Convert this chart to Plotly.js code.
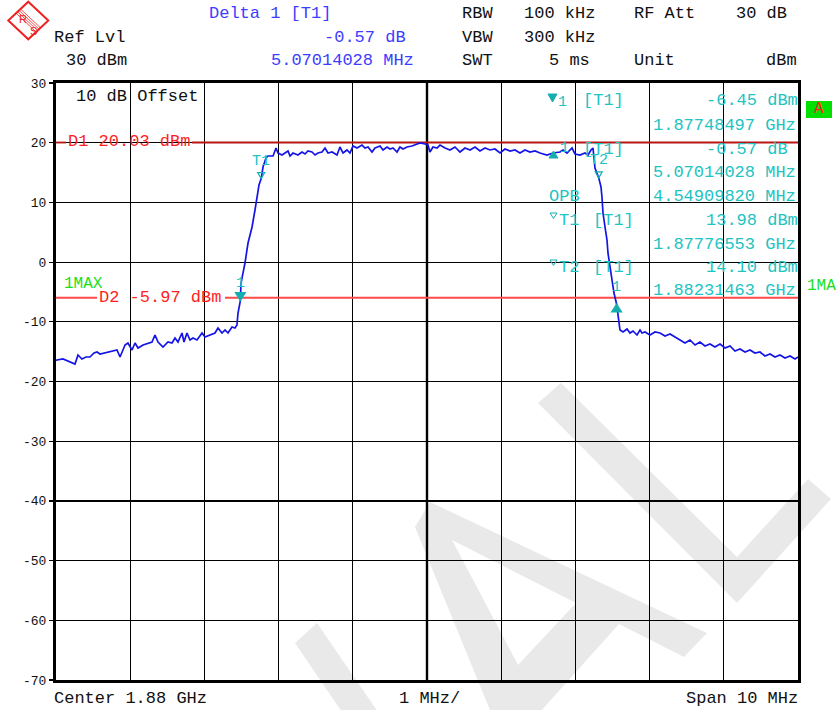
<!DOCTYPE html>
<html>
<head>
<meta charset="utf-8">
<script src="https://cdn.plot.ly/plotly-3.0.1.min.js"></script>
<style>
  html, body { margin: 0; padding: 0; background: #ffffff; }
  #chart { width: 837px; height: 710px; }
</style>
</head>
<body>
<div id="chart"></div>
<script>
// ---- Sweep trace (max hold), frequency in MHz, level in dBm ----
const freqMHz = [
  1875.000, 1875.013, 1875.094, 1875.162, 1875.256, 1875.296, 1875.350, 1875.404, 1875.458, 1875.512,
  1875.553, 1875.593, 1875.660, 1875.728, 1875.782, 1875.822, 1875.863, 1875.930, 1875.970, 1876.024,
  1876.065, 1876.105, 1876.173, 1876.240, 1876.294, 1876.334, 1876.375, 1876.442, 1876.509, 1876.563,
  1876.604, 1876.644, 1876.698, 1876.725, 1876.765, 1876.806, 1876.846, 1876.900, 1876.968, 1877.008,
  1877.075, 1877.143, 1877.183, 1877.237, 1877.278, 1877.318, 1877.372, 1877.412, 1877.439, 1877.453,
  1877.48497, 1877.493, 1877.520, 1877.547, 1877.588, 1877.642, 1877.682, 1877.709, 1877.736, 1877.76553,
  1877.790, 1877.830, 1877.857, 1877.925, 1877.965, 1877.992, 1878.046, 1878.086, 1878.127, 1878.154,
  1878.194, 1878.261, 1878.315, 1878.356, 1878.396, 1878.450, 1878.491, 1878.531, 1878.585, 1878.625,
  1878.666, 1878.720, 1878.787, 1878.827, 1878.868, 1878.922, 1878.962, 1879.003, 1879.057, 1879.124,
  1879.164, 1879.205, 1879.259, 1879.299, 1879.367, 1879.407, 1879.461, 1879.501, 1879.542, 1879.596,
  1879.636, 1879.677, 1879.730, 1879.798, 1879.838, 1879.906, 1879.973, 1880.013, 1880.040, 1880.081,
  1880.135, 1880.175, 1880.243, 1880.310, 1880.377, 1880.445, 1880.512, 1880.580, 1880.647, 1880.714,
  1880.782, 1880.849, 1880.916, 1880.984, 1881.051, 1881.119, 1881.186, 1881.253, 1881.321, 1881.388,
  1881.456, 1881.523, 1881.617, 1881.698, 1881.792, 1881.833, 1881.887, 1881.954, 1881.995, 1882.062,
  1882.129, 1882.170, 1882.210, 1882.237, 1882.244, 1882.251, 1882.264, 1882.31463, 1882.345, 1882.358,
  1882.372, 1882.399, 1882.426, 1882.439, 1882.466, 1882.493, 1882.520, 1882.55511, 1882.574, 1882.588,
  1882.601, 1882.642, 1882.695, 1882.736, 1882.776, 1882.830, 1882.871, 1882.898, 1882.938, 1883.005,
  1883.073, 1883.140, 1883.208, 1883.275, 1883.342, 1883.410, 1883.477, 1883.544, 1883.612, 1883.679,
  1883.747, 1883.814, 1883.881, 1883.949, 1884.016, 1884.084, 1884.151, 1884.218, 1884.286, 1884.353,
  1884.420, 1884.488, 1884.555, 1884.623, 1884.690, 1884.757, 1884.825, 1884.892, 1884.960, 1885.000
];
const levelDbm = [
  -16.50, -16.40, -16.23, -16.57, -17.07, -15.56, -16.23, -15.90, -15.90, -15.23,
  -15.06, -15.40, -15.23, -15.06, -14.89, -14.72, -15.90, -13.89, -13.55, -14.72,
  -13.55, -14.39, -13.89, -13.55, -13.38, -12.21, -13.38, -14.22, -13.38, -13.55,
  -12.71, -13.38, -11.88, -13.38, -11.88, -13.05, -12.71, -13.05, -11.88, -12.55,
  -12.21, -11.88, -11.04, -11.88, -11.37, -11.88, -10.87, -11.04, -10.54, -8.53,
  -6.45, -3.54, -1.86, -0.15, 3.20, 5.88, 8.73, 10.91, 12.92, 13.98,
  15.93, 17.44, 17.77, 17.77, 19.11, 18.27, 17.94, 18.27, 18.61, 17.77,
  18.27, 17.94, 18.44, 18.11, 18.61, 18.44, 17.94, 18.27, 18.44, 19.11,
  18.27, 18.44, 17.94, 19.28, 18.27, 18.78, 18.27, 19.45, 19.11, 19.61,
  19.11, 19.28, 18.44, 19.11, 19.45, 18.78, 19.28, 18.94, 19.11, 18.44,
  19.28, 18.94, 19.28, 19.45, 19.61, 19.95, 19.78, 19.61, 18.44, 19.28,
  19.11, 19.61, 19.11, 18.78, 19.28, 18.44, 19.11, 18.78, 19.28, 18.61,
  19.11, 18.78, 18.94, 18.27, 18.94, 18.61, 18.78, 18.27, 18.78, 18.44,
  18.61, 18.27, 17.94, 18.27, 18.44, 18.78, 18.27, 19.11, 18.11, 17.94,
  18.27, 17.94, 18.78, 19.11, 18.27, 16.76, 15.76, 14.10, 12.58, 10.90,
  8.22, 5.88, 3.70, 1.53, -0.82, -3.00, -5.18, -7.02, -8.53, -10.21,
  -11.38, -11.71, -11.21, -11.88, -11.54, -12.21, -11.38, -11.88, -11.71, -12.21,
  -11.71, -11.88, -12.38, -12.04, -12.55, -13.05, -13.55, -13.05, -13.89, -13.38,
  -14.05, -13.72, -14.22, -13.72, -14.39, -14.05, -14.89, -14.56, -15.06, -14.72,
  -15.23, -15.06, -15.73, -15.40, -15.90, -15.56, -16.06, -15.73, -16.23, -15.90
];

// ---- Axis ----
const centerGHz = 1.88;
const spanMHz = 10;
const yTickVals = [30, 20, 10, 0, -10, -20, -30, -40, -50, -60, -70];
const yTickText = ['30', '20', '10', '0', '-10', '-20', '-30', '-40', '-50', '-60', '-70'];

// ---- Markers ----
const m1FreqGHz = 1.87748497, m1LevelDbm = -6.45;
const deltaFreqMHz = 5.07014028, deltaLevelDb = -0.57;
const t1FreqGHz = 1.87776553, t1LevelDbm = 13.98;
const t2FreqGHz = 1.88231463, t2LevelDbm = 14.10;
const opbMHz = 4.54909820;

// ---- Display lines ----
const lineNames = ['D1', 'D2'];
const lineLevels = [20.03, -5.97];

// ---- Instrument settings ----
const settingNames = ['RBW', 'VBW', 'SWT'];
const settingValues = ['100 kHz', '300 kHz', '  5 ms'];

// ---------------------------------------------------------------
const MONO = 'Liberation Mono, DejaVu Sans Mono, monospace';
const SANS = 'Liberation Sans, Arial, sans-serif';
const BLUE_TXT = '#3c3cff';
const CYAN = '#22c3c3';
const CYAN_MK = '#14aeb0';
const RED_TXT = '#ff1e1e';
const GREEN = '#18e018';

// plot frame in page pixels
const L = 56, T = 83, W = 742, H = 597;
const px = x => (x - L) / W;
const py = y => (T + H - y) / H;
const pxMHz = x => (centerGHz * 1000 - spanMHz / 2) + (x - L) / W * spanMHz;

function note(text, x, y, opts) {
  const base = {
    text: text, x: px(x), y: py(y), xref: 'paper', yref: 'paper',
    showarrow: false, xanchor: 'left', yanchor: 'middle', borderpad: 0,
    font: { family: MONO, size: 17, color: '#111111' }
  };
  return Object.assign(base, opts || {});
}
function poly(points) {
  return 'M ' + points.map(p => px(p[0]).toFixed(5) + ' ' + py(p[1]).toFixed(5)).join(' L ') + ' Z';
}

const fMin = centerGHz * 1000 - spanMHz / 2;
const fMax = centerGHz * 1000 + spanMHz / 2;
const m1MHz = m1FreqGHz * 1000;
const deltaMHz = m1MHz + deltaFreqMHz;
const deltaLevel = m1LevelDbm + deltaLevelDb;
const t1MHz = t1FreqGHz * 1000;
const t2MHz = t2FreqGHz * 1000;

const trace = {
  x: freqMHz, y: levelDbm, type: 'scatter', mode: 'lines',
  line: { color: '#1414e6', width: 1.7 }, hoverinfo: 'skip'
};

const shapes = [];
const annotations = [];

// watermark lettering behind the grid
const wm = { type: 'path', xref: 'paper', yref: 'paper', layer: 'below',
             fillcolor: '#e9e9e9', line: { width: 0 } };
shapes.push(Object.assign({}, wm, { path: poly([[295, 643], [317, 623], [380, 715], [344, 715]]) }));
shapes.push(Object.assign({}, wm, { fillrule: 'evenodd',
  path: poly([[492, 715], [415, 527], [430, 502], [707, 633], [684, 657], [619, 624], [540, 712]]) +
        ' ' + poly([[452, 540], [576, 603], [518, 665]]) }));
shapes.push(Object.assign({}, wm, { path: poly([[538, 403], [737, 603], [831, 499], [808, 479], [737, 557], [561, 383]]) }));

// heavier centre graticule line
shapes.push({ type: 'line', xref: 'x', yref: 'paper', x0: centerGHz * 1000, x1: centerGHz * 1000, y0: 0, y1: 1,
              line: { color: '#000', width: 2.4 }, layer: 'between' });

// display lines, broken where their labels sit
const lineColors = ['#b81414', '#ff4a4a'];
const lineGaps = [[67, 192], [98, 225]];
lineLevels.forEach((lv, i) => {
  const gap = lineGaps[i];
  [[fMin, pxMHz(gap[0] - 1)], [pxMHz(gap[1]), fMax]].forEach(seg => {
    shapes.push({ type: 'line', xref: 'x', yref: 'y', x0: seg[0], x1: seg[1], y0: lv, y1: lv,
                  line: { color: lineColors[i], width: 1.8 }, layer: 'between' });
  });
  annotations.push(note(lineNames[i] + ' ' + lv.toFixed(2) + ' dBm', gap[0], [141.5, 297][i],
    { font: { family: MONO, size: 17, color: RED_TXT } }));
});

// marker glyphs anchored at marker values
function glyph(fx, lv, path, filled) {
  return { type: 'path', xref: 'x', yref: 'y', xsizemode: 'pixel', ysizemode: 'pixel',
           xanchor: fx, yanchor: lv, path: path,
           fillcolor: filled ? CYAN_MK : 'rgba(0,0,0,0)',
           line: { color: CYAN_MK, width: 1.2 } };
}
shapes.push(glyph(m1MHz, m1LevelDbm, 'M -5 8 L 5 8 L 0 0 Z', true));
shapes.push(glyph(deltaMHz, deltaLevel, 'M -5 -8 L 5 -8 L 0 0 Z', true));
shapes.push(glyph(t1MHz, t1LevelDbm, 'M -3.5 6 L 3.5 6 L 0 0 Z', false));
shapes.push(glyph(t2MHz, t2LevelDbm, 'M -3.5 6 L 3.5 6 L 0 0 Z', false));

function mlabel(text, fx, lv, dy) {
  return { text: text, x: fx, y: lv, xref: 'x', yref: 'y', showarrow: false,
           xanchor: 'center', yanchor: 'middle', yshift: dy, borderpad: 0,
           font: { family: MONO, size: 15, color: CYAN } };
}
annotations.push(mlabel('1', m1MHz, m1LevelDbm, 17));
annotations.push(mlabel('1', deltaMHz, deltaLevel, 17));
annotations.push(mlabel('T1', t1MHz, t1LevelDbm, 17));
annotations.push(mlabel('T2', t2MHz, t2LevelDbm, 17));

// marker table
const cyanFont = { family: MONO, size: 17, color: CYAN };
const rowY = [100.7, 125.5, 149, 172.5, 196, 220.7, 244.2, 267.5, 290.8];
annotations.push(note('[T1]', 582, rowY[0], { font: cyanFont }));
annotations.push(note(m1LevelDbm.toFixed(2) + ' dBm', 705, rowY[0], { font: cyanFont }));
annotations.push(note(m1FreqGHz.toFixed(8) + ' GHz', 797, rowY[1], { font: cyanFont, xanchor: 'right' }));
annotations.push(note('[T1]', 582, rowY[2], { font: cyanFont }));
annotations.push(note(deltaLevelDb.toFixed(2) + ' dB', 705, rowY[2], { font: cyanFont }));
annotations.push(note(deltaFreqMHz.toFixed(8) + ' MHz', 797, rowY[3], { font: cyanFont, xanchor: 'right' }));
annotations.push(note('OPB', 548, rowY[4], { font: cyanFont }));
annotations.push(note(opbMHz.toFixed(8) + ' MHz', 797, rowY[4], { font: cyanFont, xanchor: 'right' }));
annotations.push(note('T1', 558, rowY[5], { font: cyanFont }));
annotations.push(note('[T1]', 592, rowY[5], { font: cyanFont }));
annotations.push(note(t1LevelDbm.toFixed(2) + ' dBm', 705, rowY[5], { font: cyanFont }));
annotations.push(note(t1FreqGHz.toFixed(8) + ' GHz', 797, rowY[6], { font: cyanFont, xanchor: 'right' }));
annotations.push(note('T2', 558, rowY[7], { font: cyanFont }));
annotations.push(note('[T1]', 592, rowY[7], { font: cyanFont }));
annotations.push(note(t2LevelDbm.toFixed(2) + ' dBm', 705, rowY[7], { font: cyanFont }));
annotations.push(note(t2FreqGHz.toFixed(8) + ' GHz', 797, rowY[8], { font: cyanFont, xanchor: 'right' }));
annotations.push(note('1', 557, rowY[0] + 2, { font: { family: MONO, size: 15, color: CYAN } }));
annotations.push(note('1', 559, rowY[2] - 1, { font: { family: MONO, size: 15, color: CYAN } }));
// small table symbols
const sym = (pts, filled) => ({ type: 'path', xref: 'paper', yref: 'paper', path: poly(pts),
  fillcolor: filled ? CYAN_MK : 'rgba(0,0,0,0)', line: { color: CYAN_MK, width: 1 } });
shapes.push(sym([[548, 94], [557, 94], [552.5, 102]], true));
shapes.push(sym([[549, 158], [558, 158], [553.5, 151]], true));
shapes.push(sym([[550, 213], [557, 213], [553.5, 218.5]], false));
shapes.push(sym([[550, 260], [557, 260], [553.5, 265.5]], false));

// trace / detector labels and status box
annotations.push(note('1MAX', 63, 284, { font: { family: MONO, size: 16, color: GREEN } }));
annotations.push(note('1MA', 806, 286, { font: { family: MONO, size: 16, color: GREEN } }));
shapes.push({ type: 'rect', xref: 'paper', yref: 'paper', x0: px(806), x1: px(832), y0: py(118), y1: py(101),
              fillcolor: '#00e000', line: { width: 0 } });
annotations.push(note('A', 819, 109.5, { xanchor: 'center', font: { family: MONO, size: 16, color: '#ff2020' } }));
annotations.push(note('10 dB Offset', 75, 96));

// header block
annotations.push(note('Delta 1 [T1]', 208, 13, { font: { family: MONO, size: 17, color: BLUE_TXT } }));
annotations.push(note(deltaLevelDb.toFixed(2) + ' dB', 407, 37.5, { xanchor: 'right', font: { family: MONO, size: 17, color: BLUE_TXT } }));
annotations.push(note(deltaFreqMHz.toFixed(8) + ' MHz', 415, 61, { xanchor: 'right', font: { family: MONO, size: 17, color: BLUE_TXT } }));
annotations.push(note('Ref Lvl', 53, 37.5));
annotations.push(note('30 dBm', 65, 61));
settingNames.forEach((n, i) => {
  annotations.push(note(n, 461, [13, 37.5, 61][i]));
  annotations.push(note(settingValues[i].trim(), [523, 523, 548][i], [13, 37.5, 61][i]));
});
annotations.push(note('RF Att', 633, 13));
annotations.push(note('30 dB', 735, 13));
annotations.push(note('Unit', 633, 61));
annotations.push(note('dBm', 765, 61));

// footer
annotations.push(note('Center ' + centerGHz.toFixed(2) + ' GHz', 53, 698));
annotations.push(note('1 MHz/', 398, 698));
annotations.push(note('Span ' + spanMHz + ' MHz', 799, 698, { xanchor: 'right' }));

// R&S logo
const logoRed = '#ee2222';
shapes.push({ type: 'path', xref: 'paper', yref: 'paper',
  path: poly([[28.3, 1.7], [48.3, 20.5], [28.3, 39.3], [8.3, 20.5]]),
  fillcolor: '#ffffff', line: { color: logoRed, width: 2 } });
shapes.push({ type: 'path', xref: 'paper', yref: 'paper',
  path: [[[16.2, 13.3], [36.2, 32.1]], [[17.6, 11.8], [37.6, 30.6]], [[19.0, 10.4], [39.0, 29.2]], [[20.4, 8.9], [40.4, 27.7]]]
    .map(s => 'M ' + px(s[0][0]) + ' ' + py(s[0][1]) + ' L ' + px(s[1][0]) + ' ' + py(s[1][1])).join(' '),
  line: { color: logoRed, width: 0.8 } });
annotations.push(note('R', 23, 19, { xanchor: 'center', font: { family: SANS, size: 11, color: logoRed } }));
annotations.push(note('S', 33, 31, { xanchor: 'center', font: { family: SANS, size: 11, color: logoRed } }));

const layout = {
  width: 837, height: 710,
  margin: { l: L, r: 837 - L - W, t: T, b: 710 - T - H, pad: 0 },
  paper_bgcolor: '#ffffff', plot_bgcolor: 'rgba(0,0,0,0)',
  showlegend: false,
  xaxis: {
    range: [fMin, fMax], dtick: 1, tick0: fMin, showticklabels: false, ticks: '',
    showgrid: true, gridcolor: '#000000', gridwidth: 1.2, zeroline: false,
    showline: true, mirror: true, linecolor: '#000000', linewidth: 2.6, fixedrange: true
  },
  yaxis: {
    range: [-70, 30], tickvals: yTickVals, ticktext: yTickText,
    ticks: 'outside', ticklen: 4, tickwidth: 1.2, tickcolor: '#000000',
    tickfont: { family: MONO, size: 13, color: '#111111' },
    showgrid: true, gridcolor: '#000000', gridwidth: 1.2, zeroline: false,
    showline: true, mirror: true, linecolor: '#000000', linewidth: 3, fixedrange: true
  },
  shapes: shapes,
  annotations: annotations
};

Plotly.newPlot('chart', [trace], layout, { displayModeBar: false, staticPlot: true });
</script>
</body>
</html>
